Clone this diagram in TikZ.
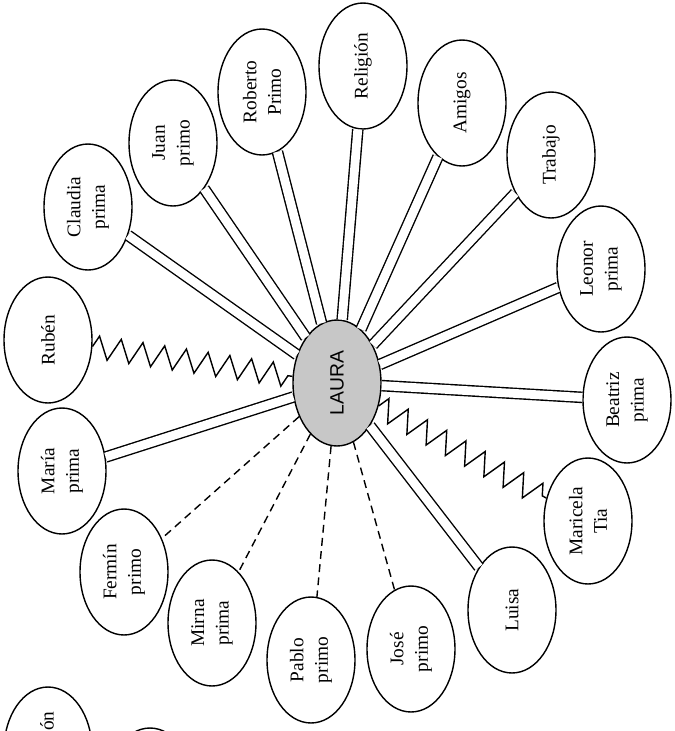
\documentclass[tikz,border=0pt]{standalone}
\usepackage{fontspec}
\setmainfont{Liberation Serif}
\newfontfamily\centrefont{Liberation Sans}
\usetikzlibrary{shapes.geometric,decorations.pathmorphing}
\tikzset{
  persona/.style={draw,ellipse,line width=0.8pt,rotate=90,minimum width=2.52cm,
    minimum height=1.76cm,inner sep=0pt,align=center,font=\fontsize{11}{14}\selectfont},
  centro/.style={persona,fill=black!22,font=\centrefont\fontsize{11}{13}\selectfont},
  fuerte/.style={double,double distance=5pt,line width=0.8pt},
  tenso/.style={line width=0.8pt,decorate,decoration={zigzag,segment length=12.5pt,amplitude=6.5pt}},
  debil/.style={line width=0.8pt,dash pattern=on 4.5pt off 3pt}
}
\begin{document}
\begin{tikzpicture}[x=0.02cm,y=-0.02cm]
      \useasboundingbox (0,0) rectangle (674,731);
      \clip (0,0) rectangle (674,731);
      \draw
        (337,383) node[centro] (laura){LAURA}
        (48,340) node[persona] (ruben){Rubén}
        (88,207) node[persona] (claudia){Claudia\\prima}
        (173,143) node[persona] (juan){Juan\\primo}
        (262,92) node[persona] (roberto){Roberto\\Primo}
        (363,66) node[persona] (religion){Religión}
        (462,103) node[persona] (amigos){Amigos}
        (551,155) node[persona] (trabajo){Trabajo}
        (601,269) node[persona] (leonor){Leonor\\prima}
        (627,400) node[persona] (beatriz){Beatriz\\prima}
        (588,521) node[persona] (maricela){Maricela\\Tia}
        (512,610) node[persona] (luisa){Luisa}
        (411,649) node[persona] (jose){José\\primo}
        (311,660) node[persona] (pablo){Pablo\\primo}
        (212,623) node[persona] (mirna){Mirna\\prima}
        (124,572) node[persona] (fermin){Fermín\\primo}
        (62,471) node[persona] (maria){María\\prima}
        (48,750) node[persona] (otra){}
        (150,791) node[persona] (otrab){};
      \node[rotate=90,inner sep=0pt,font=\fontsize{11}{14}\selectfont] (otratxt) at (47,721) {ón};
      \begin{scope}
        \draw[fuerte] (laura) to (claudia);
        \draw[fuerte] (laura) to (juan);
        \draw[fuerte] (laura) to (roberto);
        \draw[fuerte] (laura) to (religion);
        \draw[fuerte] (laura) to (amigos);
        \draw[fuerte] (laura) to (trabajo);
        \draw[fuerte] (laura) to (leonor);
        \draw[fuerte] (laura) to (beatriz);
        \draw[fuerte] (laura) to (luisa);
        \draw[fuerte] (laura) to (maria);
        \draw[tenso] (ruben) to (laura);
        \draw[tenso] (laura) to (maricela);
        \draw[debil] (laura) to (fermin);
        \draw[debil] (laura) to (mirna);
        \draw[debil] (laura) to (pablo);
        \draw[debil] (laura) to (jose);
      \end{scope}
    \end{tikzpicture}
\end{document}
